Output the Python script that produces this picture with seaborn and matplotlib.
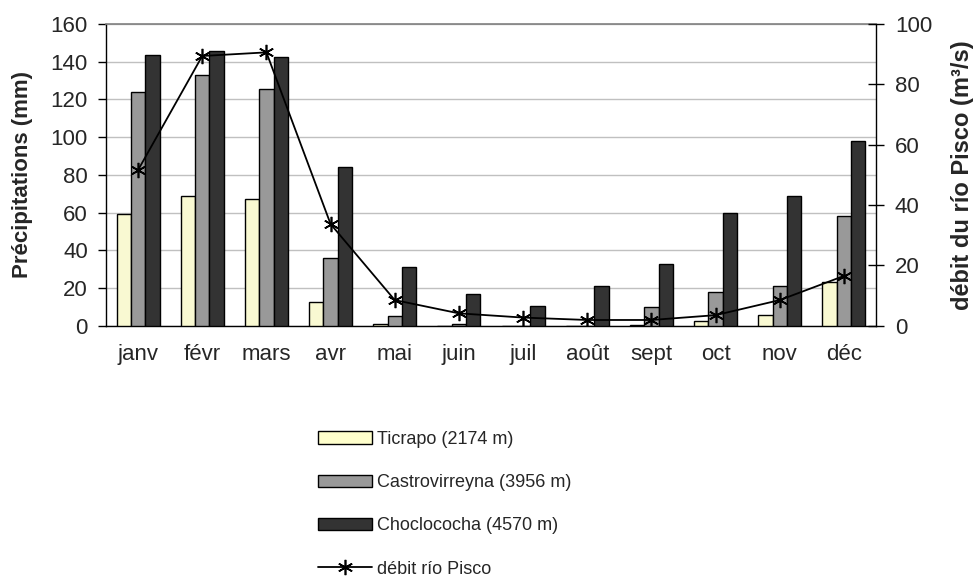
import matplotlib

matplotlib.use('Agg')
import matplotlib.pyplot as plt
from matplotlib.lines import Line2D
from matplotlib.patches import Patch
import numpy as np
import pandas as pd
import seaborn as sns

# month labels and values
mois = ['janv', 'févr', 'mars', 'avr', 'mai', 'juin', 'juil', 'août', 'sept', 'oct', 'nov', 'déc']
stations = ['Ticrapo (2174 m)', 'Castrovirreyna (3956 m)', 'Choclococha (4570 m)']
ticrapo = [59, 69, 67, 12.5, 1, 0, 0, 0, 0.5, 2.7, 5.5, 23.4]
castrovirreyna = [124, 133, 125.5, 36, 5.3, 1, 0, 0, 9.8, 18, 21.3, 58.3]
choclococha = [143.4, 145.7, 142.5, 84, 31, 17, 10.6, 21.3, 32.8, 59.6, 69, 98]
debit = [51.6, 89.4, 90.6, 33.7, 8.5, 4.1, 2.7, 1.9, 1.9, 3.5, 8.5, 16.5]
couleurs = ['#FFFFCC', '#999999', '#333333']

sns.set_style('white')
plt.rcParams['font.family'] = ['Liberation Sans', 'DejaVu Sans']

df = pd.DataFrame({
    'mois': mois * 3,
    'station': np.repeat(stations, 12),
    'pluie': ticrapo + castrovirreyna + choclococha,
})

fig, ax = plt.subplots(figsize=(9.75, 5.77), dpi=100)
fig.subplots_adjust(left=0.1087, right=0.8985, top=0.9584, bottom=0.4355)

sns.barplot(data=df, x='mois', y='pluie', hue='station', palette=couleurs,
            width=0.67, edgecolor='black', linewidth=1, ax=ax, legend=False,
            zorder=3)

ax.set_xlim(-0.5, 11.5)
ax.set_ylim(0, 160)
ax.set_yticks(np.arange(0, 161, 20))
ax.yaxis.grid(True, color='#c0c0c0', linewidth=1, zorder=0)
ax.set_axisbelow(True)
ax.set_xlabel('')
ax.set_ylabel('Précipitations (mm)', fontsize=16, fontweight='bold', labelpad=13)

# ticks between months
ax.set_xticks(np.arange(-0.5, 12, 1), minor=True)
ax.tick_params(axis='x', which='major', length=0, pad=13, labelsize=16)
ax.tick_params(axis='x', which='minor', length=6, width=1, color='black', direction='out')
ax.tick_params(axis='y', length=6, width=1, color='black', direction='out', pad=7, labelsize=16, left=True)

for s in ['left', 'bottom', 'right']:
    ax.spines[s].set_color('black')
    ax.spines[s].set_linewidth(1)
ax.spines['top'].set_color('#808080')
ax.spines['top'].set_linewidth(1.2)

ax2 = ax.twinx()
ax2.plot(np.arange(12), debit, color='black', linewidth=1.3, marker=(6, 2, 0),
         markersize=11, markeredgewidth=1.2, zorder=5)
ax2.set_ylim(0, 100)
ax2.set_yticks(np.arange(0, 101, 20))
ax2.tick_params(axis='y', length=11, width=1, color='black', direction='inout', pad=8, labelsize=16)
ax2.set_ylabel('débit du río Pisco (m³/s)', fontsize=17, fontweight='bold', labelpad=14)
for s in ax2.spines.values():
    s.set_visible(False)

handles = [Patch(facecolor=c, edgecolor='black', linewidth=1) for c in couleurs]
handles.append(Line2D([0], [0], color='black', linewidth=1.3, marker=(6, 2, 0),
                      markersize=11, markeredgewidth=1.2))
labels = stations + ['débit río Pisco']
fig.legend(handles, labels, loc='upper left', bbox_to_anchor=(0.326, 0.253),
           frameon=False, fontsize=13, handlelength=3.0, handleheight=0.7,
           handletextpad=0.3, labelspacing=1.45, borderpad=0, borderaxespad=0)

fig.savefig('out.png', dpi=100)
